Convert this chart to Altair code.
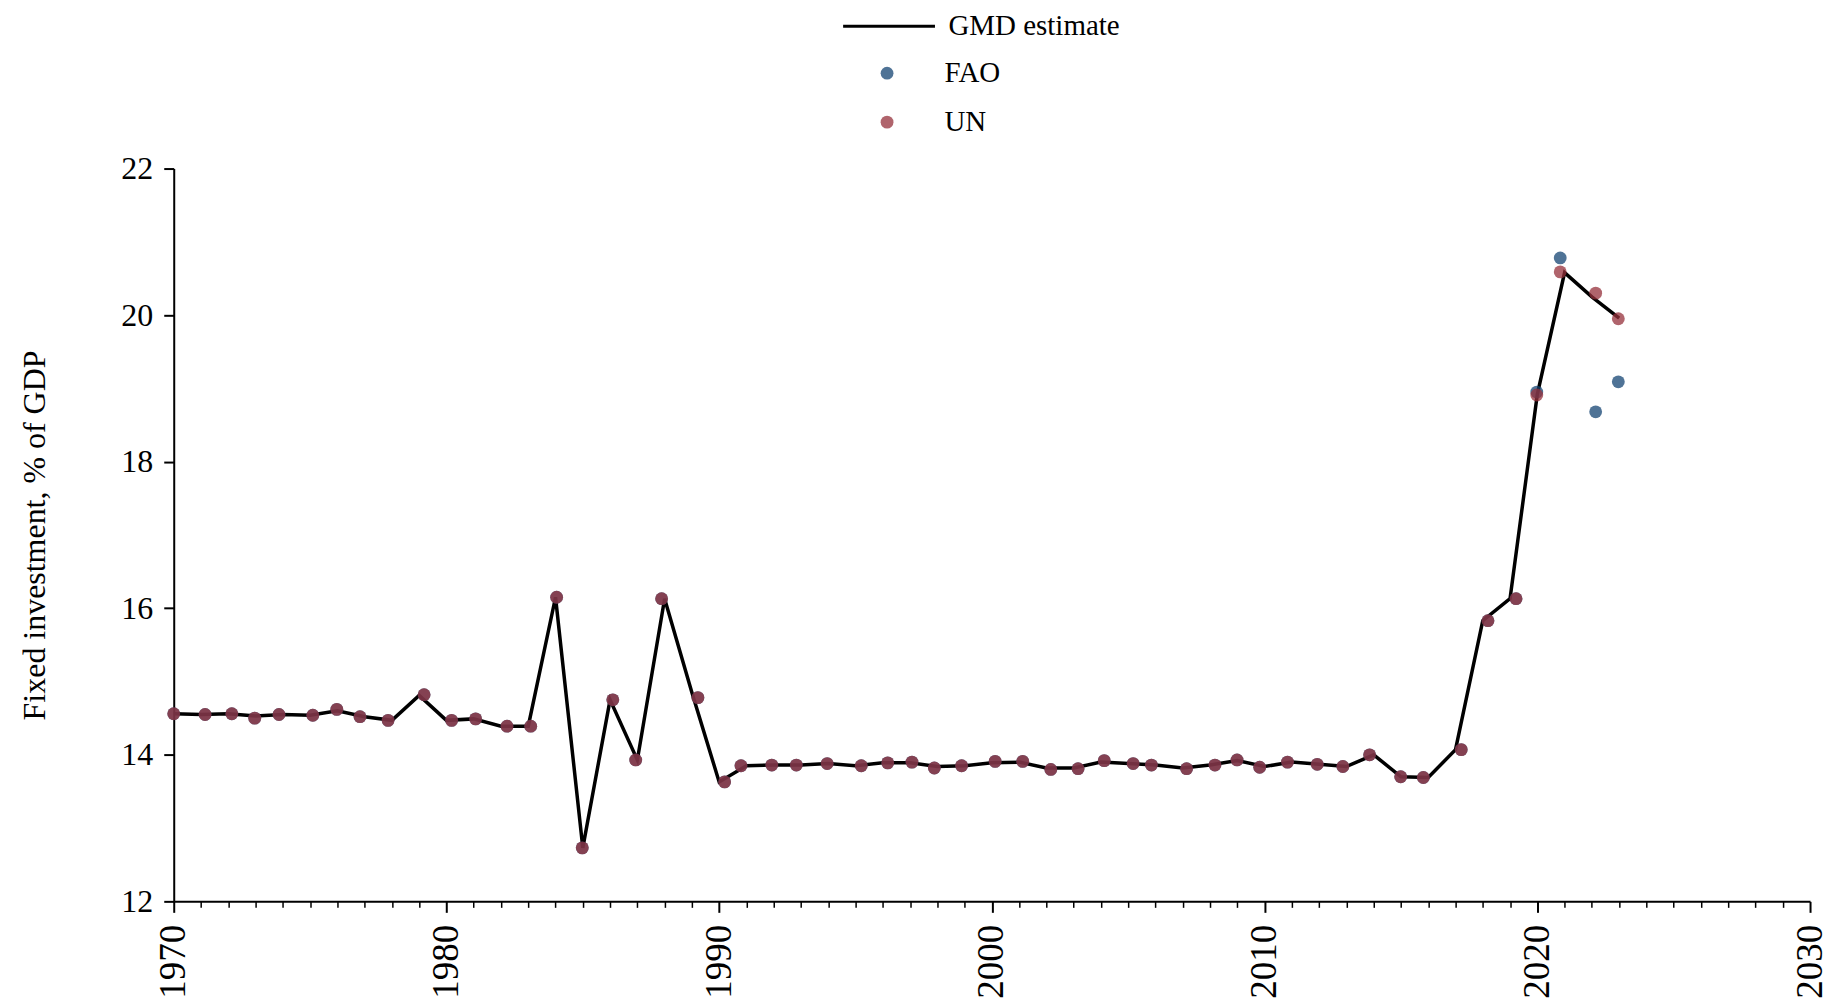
import altair as alt
import pandas as pd

FONT = "Liberation Serif"

# ---- data ----
years = list(range(1970, 2024))
gmd_estimate = [
    14.56, 14.55, 14.56, 14.53, 14.55, 14.54, 14.60, 14.52, 14.47, 14.81,
    14.47, 14.49, 14.39, 14.39, 16.15, 12.73, 14.75, 13.93, 16.13, 14.85,
    13.63, 13.85, 13.86, 13.86, 13.88, 13.85, 13.89, 13.89, 13.84, 13.85,
    13.89, 13.90, 13.82, 13.82, 13.90, 13.88, 13.86, 13.82, 13.86, 13.92,
    13.84, 13.90, 13.87, 13.84, 14.00, 13.70, 13.69, 14.07, 15.83, 16.13,
    18.92, 20.58, 20.25, 19.96,
]
# horizontal positions of the source dots (slightly jittered around each year)
dot_x = [
    1970.00, 1971.15, 1972.13, 1972.97, 1973.86, 1975.10, 1975.98, 1976.83, 1977.86, 1979.18,
    1980.19, 1981.07, 1982.22, 1983.09, 1984.04, 1984.98, 1986.10, 1986.94, 1987.89, 1989.22,
    1990.20, 1990.80, 1991.93, 1992.83, 1993.96, 1995.21, 1996.18, 1997.07, 1997.89, 1998.89,
    2000.12, 2001.13, 2002.16, 2003.16, 2004.12, 2005.18, 2005.85, 2007.14, 2008.18, 2008.99,
    2009.82, 2010.84, 2011.93, 2012.87, 2013.85, 2014.99, 2015.82, 2017.21, 2018.19, 2019.22,
    2019.98, 2020.84, 2022.14, 2022.97,
]
un_values = [
    14.56, 14.55, 14.56, 14.50, 14.55, 14.54, 14.62, 14.52, 14.47, 14.82,
    14.47, 14.49, 14.39, 14.39, 16.15, 12.73, 14.75, 13.93, 16.13, 14.78,
    13.63, 13.85, 13.86, 13.86, 13.88, 13.85, 13.89, 13.90, 13.82, 13.85,
    13.91, 13.91, 13.80, 13.81, 13.92, 13.88, 13.86, 13.81, 13.86, 13.93,
    13.83, 13.90, 13.87, 13.84, 14.00, 13.70, 13.69, 14.07, 15.83, 16.13,
    18.91, 20.59, 20.30, 19.95,
]
# FAO coincides with UN up to 2019 (hidden behind the UN dots)
fao_values = [
    14.56, 14.55, 14.56, 14.50, 14.55, 14.54, 14.62, 14.52, 14.47, 14.82,
    14.47, 14.49, 14.39, 14.39, 16.15, 12.73, 14.75, 13.93, 16.13, 14.78,
    13.63, 13.85, 13.86, 13.86, 13.88, 13.85, 13.89, 13.90, 13.82, 13.85,
    13.91, 13.91, 13.80, 13.81, 13.92, 13.88, 13.86, 13.81, 13.86, 13.93,
    13.83, 13.90, 13.87, 13.84, 14.00, 13.70, 13.69, 14.07, 15.83, 16.13,
    18.95, 20.78, 18.68, 19.09,
]

x_tick_values = list(range(1970, 2031))
y_tick_values = [12, 14, 16, 18, 20, 22]
sources = ["FAO", "UN"]
source_colors = ["#144473", "#96303b"]
DOT_OPACITY = 0.75
DOT_SIZE = 165

line_df = pd.DataFrame({"year": years, "value": gmd_estimate, "series": "GMD estimate"})
un_df = pd.DataFrame({"x": dot_x, "year": years, "value": un_values, "source": "UN"})
fao_df = pd.DataFrame({"x": dot_x, "year": years, "value": fao_values, "source": "FAO"})

# ---- plot geometry ----
W, H = 1639, 734

x_scale = alt.Scale(domain=[1970, 2030], nice=False, zero=False)
y_scale = alt.Scale(domain=[12, 22], nice=False, zero=False)

decade = "datum.value % 10 === 0"
x_axis = alt.Axis(
    values=x_tick_values, format="d",
    labelExpr=f"{decade} ? datum.label : ''",
    labelAngle=270, labelFont=FONT, labelFontSize=37, labelColor="black",
    labelPadding=12, labelOverlap=False, labelFlush=False,
    tickSize={"condition": {"test": decade, "value": 11}, "value": 6},
    tickWidth={"condition": {"test": decade, "value": 2}, "value": 1.5},
    tickColor="black", domainColor="black", domainWidth=2, grid=False,
)
y_axis = alt.Axis(
    values=y_tick_values, labelFont=FONT, labelFontSize=32, labelColor="black",
    labelPadding=11, tickSize=10, tickWidth=2, tickColor="black",
    domainColor="black", domainWidth=2, grid=False,
    titleFont=FONT, titleFontSize=32, titleFontWeight="normal", titleColor="black",
    titleAngle=270, titleX=-129, titleY=H / 2, titleAlign="center",
    titleBaseline="alphabetic",
)
Y_TITLE = "Fixed investment, % of GDP"

line = alt.Chart(line_df).mark_line(strokeWidth=3.5).encode(
    x=alt.X("year:Q", scale=x_scale, axis=x_axis, title=None),
    y=alt.Y("value:Q", scale=y_scale, axis=y_axis, title=Y_TITLE),
    stroke=alt.Stroke(
        "series:N", scale=alt.Scale(domain=["GMD estimate"], range=["black"]),
        legend=alt.Legend(
            orient="none", legendX=669, legendY=-190, title=None,
            symbolType="stroke", symbolSize=8464, symbolStrokeWidth=3,
            labelFont=FONT, labelFontSize=29, labelColor="black", labelOffset=12,
            labelLimit=500, padding=0,
        ),
    ),
)

color_enc = alt.Color(
    "source:N", scale=alt.Scale(domain=sources, range=source_colors),
    legend=alt.Legend(
        orient="none", legendX=700, legendY=-110, title=None,
        symbolType="circle", symbolSize=DOT_SIZE, symbolOpacity=DOT_OPACITY,
        labelFont=FONT, labelFontSize=29, labelColor="black", labelOffset=43,
        labelLimit=500, rowPadding=19, padding=0,
    ),
)

fao_pts = alt.Chart(fao_df).mark_circle(size=DOT_SIZE, opacity=DOT_OPACITY).encode(
    x=alt.X("x:Q", scale=x_scale, axis=x_axis, title=None),
    y=alt.Y("value:Q", scale=y_scale, axis=y_axis, title=Y_TITLE),
    color=color_enc,
)

un_pts = alt.Chart(un_df).mark_circle(size=DOT_SIZE, opacity=DOT_OPACITY).encode(
    x=alt.X("x:Q", scale=x_scale, axis=x_axis, title=None),
    y=alt.Y("value:Q", scale=y_scale, axis=y_axis, title=Y_TITLE),
    color=color_enc,
)

chart = alt.layer(line, fao_pts, un_pts).properties(
    width=W, height=H,
    autosize=alt.AutoSizeParams(type="none"),
    padding={"left": 166, "top": 160, "right": 22, "bottom": 98},
    background="white",
).configure_view(strokeWidth=0)

chart.save("out.html", embed_options={"renderer": "svg", "actions": False})
